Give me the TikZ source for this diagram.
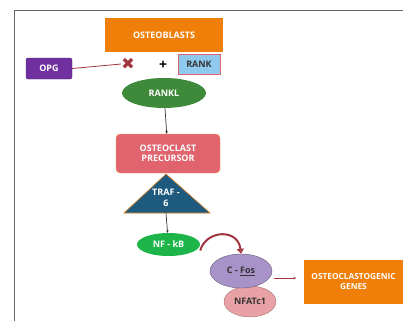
\documentclass[tikz,border=0pt]{standalone}
\usepackage{fontspec}
\setmainfont{Open Sans}
\newfontfamily\symfont{DejaVu Sans}
\usetikzlibrary{shapes.geometric,arrows.meta}
\definecolor{orng}{HTML}{F07F09}
\definecolor{purp}{HTML}{7030A0}
\definecolor{rblue}{HTML}{8FCAEE}
\definecolor{grn}{HTML}{3F8A3A}
\definecolor{pinkr}{HTML}{E0636E}
\definecolor{navy}{HTML}{1D5A7E}
\definecolor{ngreen}{HTML}{1DB44A}
\definecolor{lpurp}{HTML}{A893C9}
\definecolor{lpink}{HTML}{E8A2A6}
\definecolor{dred}{HTML}{A0353F}
\begin{document}
\begin{tikzpicture}[x=1pt,y=-1pt,
  lbl/.style={font=\fontsize{9}{10.5}\selectfont\bfseries,text=white,align=center,inner sep=0pt},
  dlbl/.style={font=\fontsize{9}{10.5}\selectfont\bfseries,text=black!80,align=center,inner sep=0pt},
  conn/.style={draw=black!80,line width=0.7pt,-{Stealth[length=2.5pt,width=2.5pt]}}]
\useasboundingbox (0,0) rectangle (403,321);
\draw[black!60,line width=1pt] (14,321) -- (14,11) -- (403,11);
% osteoblasts
\node[lbl,fill=orng,minimum width=118pt,minimum height=34pt] (ob) at (164,35) {OSTEOBLASTS};
\node[lbl,fill=purp,draw=purp!70!black,rounded corners=2pt,minimum width=46pt,minimum height=21pt] (opg) at (49,68.5) {OPG};
\node[font=\symfont\fontsize{16}{16}\selectfont,text=dred,inner sep=0pt] (x) at (128,64) {✖};
\node[font=\fontsize{14}{14}\selectfont\bfseries,inner sep=0pt] (plus) at (163,65) {+};
\node[dlbl,fill=rblue,draw=pinkr,line width=0.5pt,minimum width=42pt,minimum height=20pt] (rank) at (199,64) {RANK};
\draw[dred,line width=0.8pt] (opg.east) -- (x.west);
\node[lbl,ellipse,fill=grn,minimum width=84pt,minimum height=30pt] (rankl) at (164,93) {RANKL};
\node[lbl,fill=pinkr,draw=orng!70,rounded corners=4pt,minimum width=104pt,minimum height=39pt] (prec) at (168,153.5) {OSTEOCLAST\\PRECURSOR};
\coordinate (tA) at (166,174);
\coordinate (tL) at (124,213);
\coordinate (tR) at (210,213);
\draw[fill=navy,draw=orng!60!brown,line width=0.6pt] (tA) -- (tL) -- (tR) -- cycle;
\node[lbl] (traf) at (166,198) {TRAF -\\6};
\coordinate (tB) at (166,213);
\node[lbl,ellipse,fill=ngreen,minimum width=63pt,minimum height=23pt] (nfkb) at (168.5,244.5) {NF - kB};
\node[dlbl,ellipse,fill=lpink,draw=lpink!70!black,line width=0.4pt,minimum width=52pt,minimum height=31pt] (nfat) at (250,301.5) {NFATc1};
\node[dlbl,ellipse,fill=lpurp,draw=lpurp!60!black,line width=0.4pt,minimum width=62pt,minimum height=34pt] (cfos) at (241,271) {C - \underline{Fos}};
\node[lbl,font=\fontsize{8.3}{10}\selectfont\bfseries,fill=orng,minimum width=99pt,minimum height=44pt] (genes) at (353.5,282) {OSTEOCLASTOGENIC\\GENES};
\draw[conn] (rankl) -- (prec);
\draw[conn] (tB) -- (nfkb);
\draw[dred,line width=2pt,-{Triangle[length=5pt,width=7pt,fill=pinkr]}] (nfkb.east) ++(0,6) .. controls (206,230) and (238,228) .. (cfos.north);
\draw[dred,line width=0.6pt,-{Stealth[length=2.5pt,width=2.5pt]}] (274,278) -- (296,278);
\end{tikzpicture}
\end{document}
